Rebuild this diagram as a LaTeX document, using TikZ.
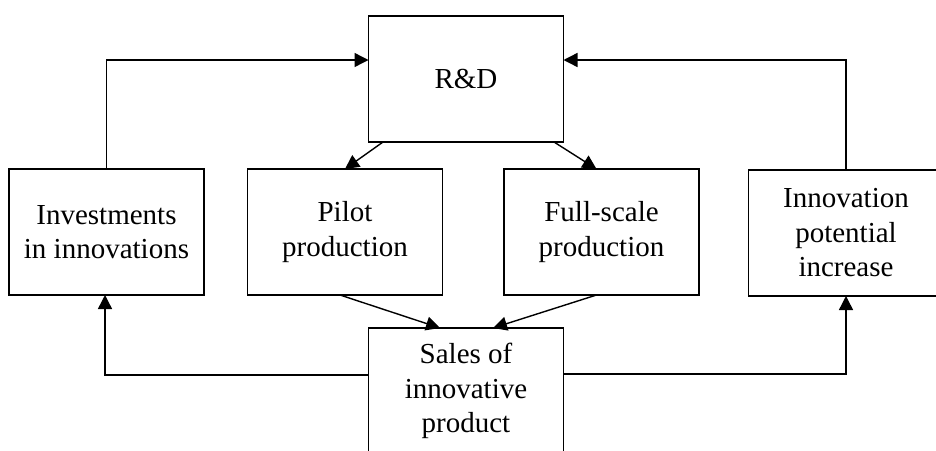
\documentclass[tikz,border=0pt]{standalone}
\usepackage{fontspec}
\setmainfont{Liberation Serif}
\usetikzlibrary{arrows.meta,positioning}
\tikzset{
    flow edge/.style = {
        draw,
        line width=1.4pt,
        -{Triangle[length=14pt, width=14pt]},
        },
}

\begin{document}
\begin{tikzpicture}[
                x=1pt, y=-1pt,
                FlowBlock/.style={draw, line width=1.7pt, minimum width=195pt, minimum height=126pt,
                    align=center, font=\fontsize{29}{34.5}\selectfont, outer sep=0pt},
            ]
            \useasboundingbox (0,0) rectangle (936,450);

            \node [FlowBlock] (rd) at (466,79) {R\&D};

            \node [FlowBlock] (invest) at (106.5,232) {Investments\\in innovations};
            \node [FlowBlock] (pilot) at (345,232) {Pilot\\production};
            \node [FlowBlock] (full) at (601.5,232) {Full-scale\\production};
            \node [FlowBlock] (potential) at (846,233) {Innovation\\potential\\increase};

            \node [FlowBlock] (sales) at (466,391) {Sales of\\innovative\\product};

            % feedback to R&D
            \draw[flow edge] (invest.north) |- ([yshift=19pt] rd.west);
            \draw[flow edge] (potential.north) |- ([yshift=19pt] rd.east);

            % R&D to production
            \draw[flow edge] ([xshift=-83pt] rd.south) to (pilot.north);
            \draw[flow edge] ([xshift=88pt] rd.south) to ([xshift=-5pt] full.north);

            % production to sales
            \draw[flow edge] ([xshift=-5pt] pilot.south) to ([xshift=-26pt] sales.north);
            \draw[flow edge] ([xshift=-5pt] full.south) to ([xshift=27pt] sales.north);

            % sales back
            \draw[flow edge] ([yshift=16pt] sales.west) -| ([xshift=-1.5pt] invest.south);
            \draw[flow edge] ([yshift=17pt] sales.east) -| (potential.south);
        \end{tikzpicture}
\end{document}
